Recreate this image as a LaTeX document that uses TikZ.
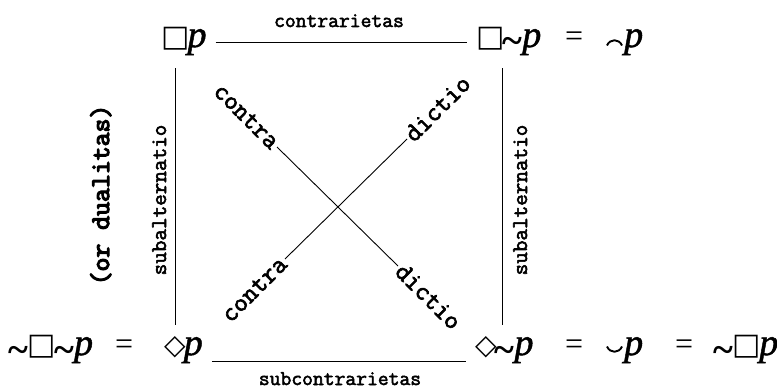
\documentclass[tikz,border=0pt]{standalone}
\usepackage{fontspec}
\setmainfont{Liberation Serif}
\newfontfamily\symfont{DejaVu Sans}
\newfontfamily\pfont{Liberation Serif}[FakeBold=1.2]
\newfontfamily\labfont{Latin Modern Mono}[FakeBold=2.5]
\newfontfamily\dualfont{Latin Modern Mono}[FakeBold=4.5]
\newcommand\Pp{{\pfont\fontsize{38}{40}\selectfont\itshape p}}
\newcommand\Bx{{\symfont\fontsize{30}{32}\selectfont □}\kern-2pt}
\newcommand\Dm{{\symfont\fontsize{28}{30}\selectfont ◇}\kern-2pt}
\newcommand\Tl{\raisebox{-7pt}{\fontsize{38}{40}\selectfont\bfseries\textasciitilde}}
\newcommand\Eq{{\fontsize{32}{34}\selectfont=}}
\begin{document}
\begin{tikzpicture}[x=1pt,y=-1pt,
  corner/.style={inner xsep=9pt, inner ysep=12.8pt, anchor=base west, text height=17pt, text depth=8.2pt},
  txt/.style={inner sep=0pt, anchor=base west},
  lab/.style={inner sep=0pt, font=\labfont\fontsize{21}{24}\selectfont},
  vlab/.style={inner sep=0pt, rotate=90, anchor=base, font=\labfont\fontsize{22.5}{24}\selectfont},
  dlab/.style={inner sep=2pt, font=\labfont\fontsize{26.5}{28}\selectfont},
  conn/.style={line width=0.9pt},
  arcsym/.style={line width=1.9pt}]
\useasboundingbox (0,0) rectangle (777,390);
% corner nodes
\node[corner] (A) at (152,47) {\Bx\Pp};
\node[corner] (B) at (467,47) {\Bx\Tl\Pp};
\node[corner] (C) at (155,355) {\Dm\Pp};
\node[corner] (D) at (466,355) {\Dm\Tl\Pp};
% extra equalities
\node[txt] (e1) at (565,47) {\Eq};
\draw[arcsym] (607,45.5) .. controls (610,38.5) and (619,38.5) .. (622,45.5);
\node[txt] (f1) at (624,47) {\Pp};
\node[txt] (nl) at (8,355) {\Tl\Bx\Tl\Pp};
\node[txt] (e2) at (115,355) {\Eq};
\node[txt] (e3) at (565,355) {\Eq};
\draw[arcsym] (607,346.5) .. controls (610,353.5) and (619,353.5) .. (622,346.5);
\node[txt] (s1) at (624,355) {\Pp};
\node[txt] (e4) at (675,355) {\Eq};
\node[txt] (nr) at (713,355) {\Tl\Bx\Pp};
% frame
\coordinate (L) at (175.7,0);
\coordinate (R) at (502.7,0);
\draw[conn] (A.east) -- (B.west);
\draw[conn] ([yshift=-6pt]C.base east) -- ([yshift=-6pt]D.base west);
\draw[conn] (A.south -| L) -- (C.north -| L);
\draw[conn] (B.south -| R) -- (D.north -| R);
% labels
\node[lab, anchor=base] (ct) at (339,27) {contrarietas};
\node[lab, anchor=base] (sct) at (340,385) {subcontrarietas};
\node[vlab] (sl) at (166,200) {subalternatio};
\node[vlab] (sr) at (527,200) {subalternatio};
\node[inner sep=0pt, rotate=90, anchor=base, font=\dualfont\fontsize{27}{29}\selectfont] (du) at (109,195) {(or dualitas)};
% diagonals
\node[dlab, rotate=-45, anchor=east] (c1) at (277,147) {contra};
\node[dlab, rotate=-45, anchor=west] (d1) at (398,266) {dictio};
\node[dlab, rotate=45, anchor=east] (c2) at (285,259) {contra};
\node[dlab, rotate=45, anchor=west] (d2) at (407,139) {dictio};
\draw[conn] (c1.east) -- (d1.west);
\draw[conn] (c2.east) -- (d2.west);
\end{tikzpicture}
\end{document}
